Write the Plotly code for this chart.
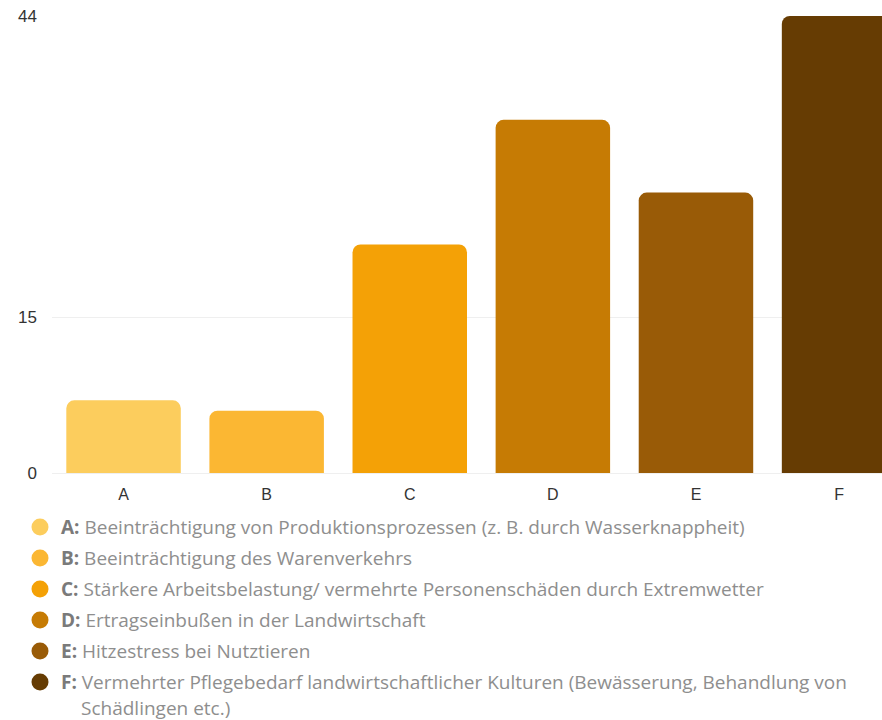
import plotly.graph_objects as go

categories = ["A", "B", "C", "D", "E", "F"]
values = [7, 6, 22, 34, 27, 44]
colors = ["#FCCD5D", "#FBB733", "#F4A106", "#C67B04", "#995B07", "#663C03"]
labels = [
    "Beeinträchtigung von Produktionsprozessen (z. B. durch Wasserknappheit)",
    "Beeinträchtigung des Warenverkehrs",
    "Stärkere Arbeitsbelastung/ vermehrte Personenschäden durch Extremwetter",
    "Ertragseinbußen in der Landwirtschaft",
    "Hitzestress bei Nutztieren",
    "Vermehrter Pflegebedarf landwirtschaftlicher Kulturen (Bewässerung, Behandlung von",
]
label_cont = "Schädlingen etc.)"
y_ticks = [0, 15, 44]

W, H = 882, 720
ml, mr, mt, mb = 52, 0, 16, 247
plot_h = H - mt - mb
plot_w = W - ml - mr

def px_x(x):
    return (x - ml) / plot_w

def px_y(y):
    return (H - mb - y) / plot_h

fig = go.Figure()
fig.add_trace(go.Bar(
    x=categories, y=values,
    marker=dict(color=colors, cornerradius=8, line=dict(width=0)),
    width=0.8, hoverinfo="skip", cliponaxis=True,
))

legend_font = "'Open Sans', sans-serif"
annotations = []
shapes = []
row_y = [527, 558, 589, 620, 651, 682]
for i, (c, lab) in enumerate(zip(categories, labels)):
    y = row_y[i]
    shapes.append(dict(
        type="circle", xref="paper", yref="paper",
        xsizemode="pixel", ysizemode="pixel",
        xanchor=px_x(40), yanchor=px_y(y),
        x0=-8.5, x1=8.5, y0=-8.5, y1=8.5,
        fillcolor=colors[i], line=dict(width=0),
    ))
    annotations.append(dict(
        xref="paper", yref="paper", x=px_x(59), y=px_y(y),
        xanchor="left", yanchor="middle", showarrow=False,
        text=f"<b><span style='color:#7a7a7a'>{c}:</span></b> {lab}",
        font=dict(family=legend_font, size=19, color="#8e8e8e"),
    ))
annotations.append(dict(
    xref="paper", yref="paper", x=px_x(79), y=px_y(708),
    xanchor="left", yanchor="middle", showarrow=False,
    text=label_cont,
    font=dict(family=legend_font, size=19, color="#8e8e8e"),
))

fig.update_layout(
    width=W, height=H,
    margin=dict(l=ml, r=mr, t=mt, b=mb, pad=0),
    paper_bgcolor="white", plot_bgcolor="white",
    showlegend=False,
    bargap=0.2,
    annotations=annotations, shapes=shapes,
    xaxis=dict(
        range=[-0.5, 5.3], showgrid=False, zeroline=False, showline=False,
        ticks="", ticklabelstandoff=10,
        tickfont=dict(family="Liberation Sans, Arial", size=16, color="#333333"),
        fixedrange=True,
    ),
    yaxis=dict(
        range=[0, 44], tickvals=y_ticks, ticktext=[str(v) for v in y_ticks],
        showgrid=True, gridcolor="#efefef", gridwidth=1,
        zeroline=True, zerolinecolor="#efefef", zerolinewidth=1,
        showline=False, ticks="", ticklabelstandoff=14,
        tickfont=dict(family="Liberation Sans, Arial", size=17, color="#333333"),
        fixedrange=True,
    ),
)

fig.write_html("out.html", config={"displayModeBar": False})
